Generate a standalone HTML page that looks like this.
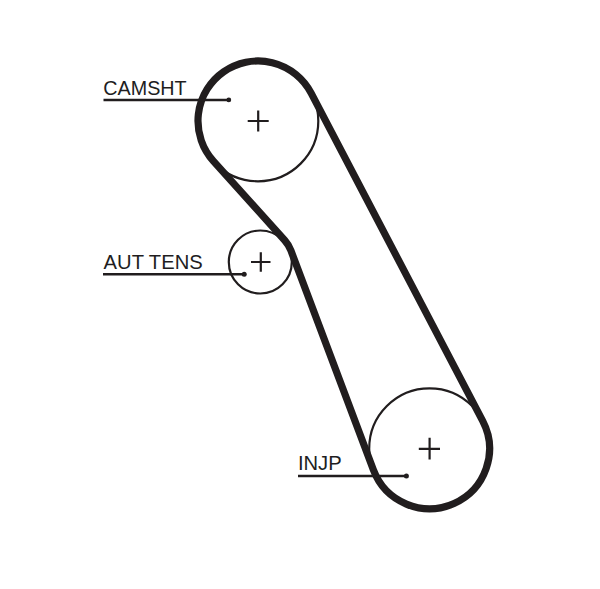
<!DOCTYPE html>
<html><head><meta charset="utf-8"><style>
html,body{margin:0;padding:0;background:#fff;}
body{width:600px;height:589px;overflow:hidden;position:relative;}
svg{position:absolute;left:0;top:0;}
text{font-family:"Liberation Sans",sans-serif;fill:#211d1e;}
</style></head><body>
<svg width="600" height="589" viewBox="0 0 600 589" xmlns="http://www.w3.org/2000/svg">
<g fill="none" stroke="#211d1e">
<circle cx="258" cy="121" r="60.3" stroke-width="2.2"/>
<circle cx="260.3" cy="262" r="31.5" stroke-width="2.2"/>
<circle cx="429.5" cy="448.7" r="60.3" stroke-width="2.2"/>
<path d="M311.16,93.18 A60.0,60.0 0 1 0 213.42,161.15 L284.65,240.25 A32.5,32.5 0 0 1 290.92,250.56 L373.34,469.81 A60.0,60.0 0 1 0 482.66,420.88 Z" stroke-width="7.2" stroke-linejoin="round"/>
<g stroke-width="2.2">
<path d="M247.7,121H268.7M258.2,110.5V131.5"/>
<path d="M251,262H270.5M260.8,252.3V271.7"/>
<path d="M418.8,448.8H440M429.6,437.8V459.6"/>
</g>
<g stroke-width="2.6">
<path d="M103.5,99.95H228.8"/>
<path d="M103,274.2H244.2"/>
<path d="M298,476H406.4"/>
</g>
</g>
<g fill="#211d1e">
<circle cx="228.8" cy="99.9" r="2.4"/>
<circle cx="244.2" cy="274.2" r="2.5"/>
<circle cx="406.4" cy="476" r="2.5"/>
</g>
<text x="103.3" y="94.9" font-size="20.2" textLength="83.3" lengthAdjust="spacingAndGlyphs">CAMSHT</text>
<text x="103.6" y="268.6" font-size="20.2">AUT TENS</text>
<text x="297.9" y="470.2" font-size="20.2">INJP</text>
</svg>
</body></html>
